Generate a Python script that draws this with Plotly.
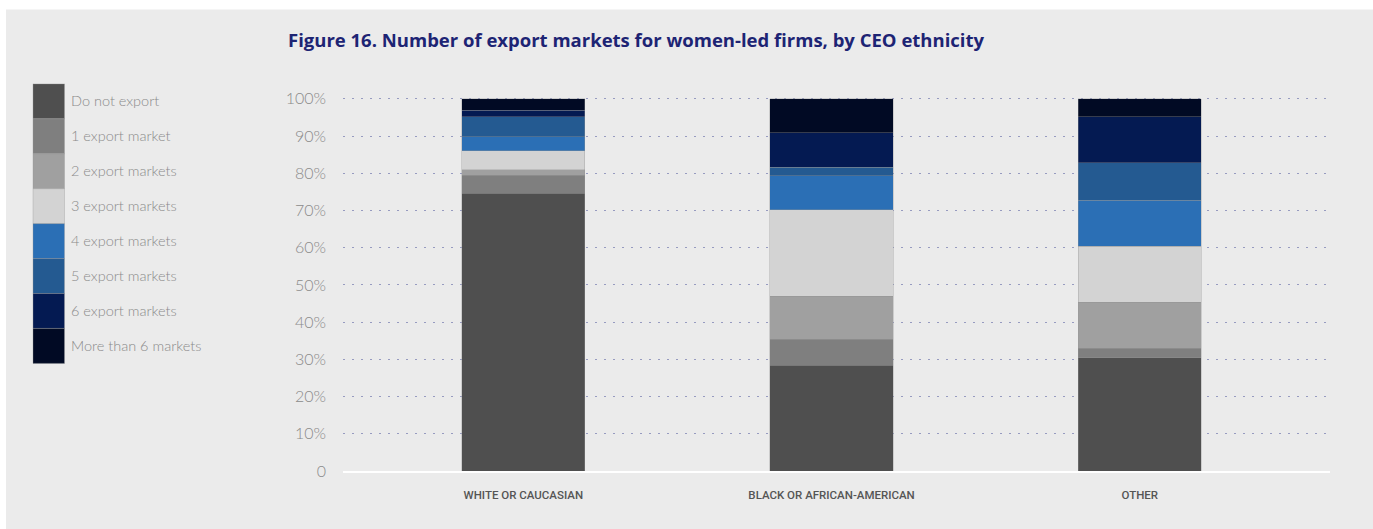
import plotly.graph_objects as go

categories = ["WHITE OR CAUCASIAN", "BLACK OR AFRICAN-AMERICAN", "OTHER"]
series_names = ["Do not export", "1 export market", "2 export markets", "3 export markets",
                "4 export markets", "5 export markets", "6 export markets", "More than 6 markets"]
do_not_export = [74.7, 28.4, 30.5]
one_market = [4.8, 7.0, 2.5]
two_markets = [1.5, 11.6, 12.4]
three_markets = [5.1, 23.2, 15.0]
four_markets = [3.7, 9.1, 12.4]
five_markets = [5.4, 2.3, 10.1]
six_markets = [1.7, 9.3, 12.3]
more_than_six = [3.1, 9.1, 4.8]
series_values = [do_not_export, one_market, two_markets, three_markets,
                 four_markets, five_markets, six_markets, more_than_six]
colors = ["#4f4f4f", "#7f7f7f", "#a0a0a0", "#d3d3d3",
          "#2b6fb5", "#245a91", "#041a52", "#010a24"]
y_tickvals = [0, 10, 20, 30, 40, 50, 60, 70, 80, 90, 100]
y_ticktext = ["0", "10%", "20%", "30%", "40%", "50%", "60%", "70%", "80%", "90%", "100%"]
title_text = "Figure 16. Number of export markets for women-led firms, by CEO ethnicity"

W, H = 1373, 529
# plot area in page pixels
PL, PR, PT, PB = 343, 1330, 97.4, 471
L, R, T, B = PL, W - PR, PT, H - PB
PW, PH = PR - PL, PB - PT
BG = "#ebebeb"


def px_x(px):
    return (px - PL) / PW


def px_y(py):
    return (PB - py) / PH


fig = go.Figure()
for name, vals, col in zip(series_names, series_values, colors):
    fig.add_trace(go.Bar(
        x=categories, y=vals, name=name, width=0.4,
        marker=dict(color=col, line=dict(width=0.6, color="rgba(150,150,150,0.6)")),
        showlegend=False,
    ))

shapes = []
# white strips along top and left edges of the canvas
shapes.append(dict(type="rect", xref="paper", yref="paper", layer="below",
                   x0=px_x(-5), x1=px_x(1380), y0=px_y(10), y1=px_y(-5),
                   fillcolor="white", line=dict(width=0)))
shapes.append(dict(type="rect", xref="paper", yref="paper", layer="below",
                   x0=px_x(-5), x1=px_x(6), y0=px_y(540), y1=px_y(-5),
                   fillcolor="white", line=dict(width=0)))
annotations = []
sw_top, sw_h = 84.3, 34.9
for i, (name, col) in enumerate(zip(series_names, colors)):
    y0 = sw_top + i * sw_h
    shapes.append(dict(type="rect", xref="paper", yref="paper",
                       x0=px_x(33), x1=px_x(64.5), y0=px_y(y0 + sw_h), y1=px_y(y0),
                       fillcolor=col, line=dict(width=0.6, color="rgba(150,150,150,0.6)")))
    annotations.append(dict(xref="paper", yref="paper", x=px_x(69), y=px_y(y0 + sw_h / 2 - 0.5),
                            text=name, showarrow=False, xanchor="left", yanchor="middle",
                            font=dict(family="Lato", size=14.5, color="#8a8a8a", weight=300)))
annotations.append(dict(xref="paper", yref="paper", x=px_x(286), y=px_y(40),
                        text="<b>" + title_text + "</b>", showarrow=False,
                        xanchor="left", yanchor="middle",
                        font=dict(family="Open Sans", size=18.5, color="#1d2474")))

fig.update_layout(
    width=W, height=H,
    margin=dict(l=L, r=R, t=T, b=B, pad=0),
    paper_bgcolor=BG, plot_bgcolor=BG,
    barmode="stack", bargap=0.6,
    shapes=shapes, annotations=annotations,
    xaxis=dict(range=[-0.585, 2.617], showgrid=False, zeroline=False,
               showline=True, linecolor="white", linewidth=2, ticks="",
               tickfont=dict(family="Roboto", size=11.5, color="#555555", weight=500),
               ticklabelstandoff=12),
    yaxis=dict(range=[0, 100.5], tickvals=y_tickvals, ticktext=y_ticktext,
               showgrid=True, gridcolor="#979bc0", gridwidth=1, griddash="2px,7px",
               zeroline=False, showline=False, ticks="",
               tickfont=dict(family="Lato", size=16, color="#8a8a8a", weight=300),
               ticklabelstandoff=16),
)

page_js = (
    "document.body.style.margin='0';"
    "document.body.style.overflow='hidden';"
    "document.documentElement.style.overflow='hidden';"
    "document.body.style.background='" + BG + "';"
    "document.documentElement.style.background='" + BG + "';"
)
fig.write_html("out.html", config={"displayModeBar": False}, post_script=page_js)
